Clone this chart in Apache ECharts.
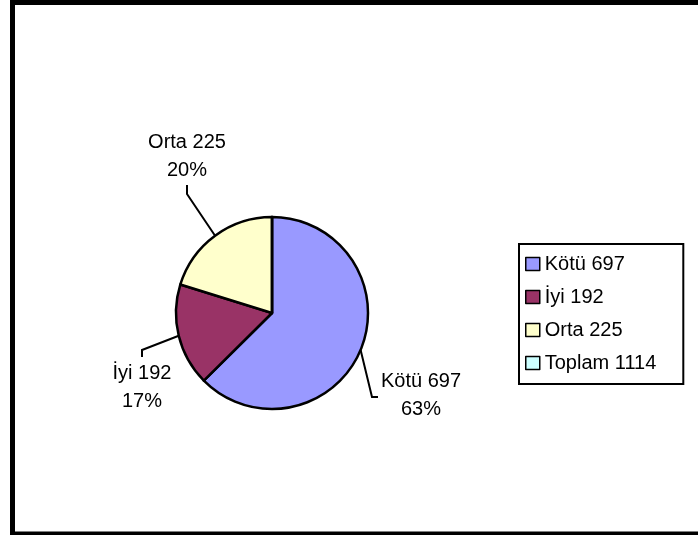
<!DOCTYPE html>
<html>
<head>
<meta charset="utf-8">
<script src="https://cdn.jsdelivr.net/npm/echarts@6/dist/echarts.min.js"></script>
<style>
html,body{margin:0;padding:0;background:#fff;}
#chart{width:698px;height:535px;}
</style>
</head>
<body>
<div id="chart"></div>
<script>
// ---- data ----
var categories = ['Kötü 697', 'İyi 192', 'Orta 225', 'Toplam 1114'];
var values = [697, 192, 225, 0];
var colors = ['#9999FF', '#993366', '#FFFFCC', '#CCFFFF'];

// ---- label layout (pixel positions of the text and leader-line bends) ----
var labelPos = [
  { x: 421, y: 395, bends: [[372, 397], [378, 397]] },
  { x: 142, y: 387, bends: [[142, 350], [142, 357]] },
  { x: 187, y: 156, bends: [[187, 194], [187, 185]] }
];

var FONT = '"Liberation Sans", Arial, sans-serif';

var chart = echarts.init(document.getElementById('chart'), null, { renderer: 'canvas' });

var data = categories.map(function (c, i) {
  var item = { name: c, value: values[i], itemStyle: { color: colors[i] } };
  if (values[i] === 0) {
    item.label = { show: false };
    item.labelLine = { show: false };
  }
  return item;
});

chart.setOption({
  backgroundColor: '#ffffff',
  animation: false,
  graphic: [{
    type: 'rect',
    shape: { x: 12.5, y: 2.5, width: 700, height: 531.5 },
    style: { fill: 'none', stroke: '#000', lineWidth: 5 },
    z: 100
  }],
  legend: {
    orient: 'vertical',
    left: 519,
    top: 244,
    data: categories,
    icon: 'rect',
    itemWidth: 14,
    itemHeight: 13,
    itemGap: 13,
    padding: [10, 27, 11, 6],
    borderColor: '#000',
    borderWidth: 2,
    backgroundColor: '#fff',
    itemStyle: { borderColor: '#000', borderWidth: 1.5 },
    textStyle: { fontFamily: FONT, fontSize: 20, color: '#000' },
    selectedMode: false
  },
  series: [{
    type: 'pie',
    center: [272, 313],
    radius: 96,
    startAngle: 90,
    clockwise: true,
    percentPrecision: 0,
    silent: true,
    emphasis: { disabled: true },
    itemStyle: { borderColor: '#000', borderWidth: 2.5 },
    label: {
      show: true,
      position: 'outside',
      formatter: '{b}\n{d}%',
      fontFamily: FONT,
      fontSize: 20,
      lineHeight: 28,
      color: '#000',
      align: 'center'
    },
    labelLine: {
      show: true,
      lineStyle: { color: '#000', width: 2 },
      length: 10,
      length2: 10
    },
    labelLayout: function (params) {
      var p = labelPos[params.dataIndex];
      if (!p) return {};
      var start = params.labelLinePoints ? params.labelLinePoints[0] : p.bends[0];
      return {
        x: p.x,
        y: p.y,
        align: 'center',
        verticalAlign: 'middle',
        labelLinePoints: [start, p.bends[0], p.bends[1]]
      };
    },
    data: data
  }]
});
</script>
</body>
</html>
